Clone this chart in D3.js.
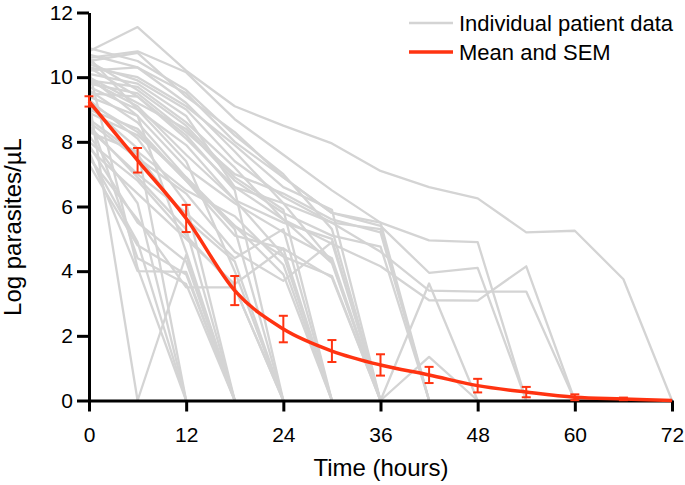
<!DOCTYPE html>
<html>
<head>
<meta charset="utf-8">
<script src="https://cdn.jsdelivr.net/npm/d3@7"></script>
<style>
  html, body { margin: 0; padding: 0; background: #fff; }
  svg { display: block; font-family: "Liberation Sans", Arial, Helvetica, sans-serif; }
</style>
</head>
<body>
<svg id="chart" width="685" height="485"></svg>
<script>
// ---- data ----
const times = [0, 6, 12, 18, 24, 30, 36, 42, 48, 54, 60, 66, 72];
const xTicks = [0, 12, 24, 36, 48, 60, 72];
const yTicks = [0, 2, 4, 6, 8, 10, 12];

const meanValues = [9.25, 7.43, 5.63, 3.40, 2.21, 1.53, 1.10, 0.79, 0.46, 0.26, 0.10, 0.05, 0];
const semValues  = [0.16, 0.38, 0.42, 0.45, 0.41, 0.34, 0.33, 0.25, 0.21, 0.16, 0.09, 0.04, 0];

// individual patients: values at times 0,6,12,...; series end when parasites cleared
const patient01 = [10.8, 11.55, 10.2, 9.1, 8.5, 7.95, 7.1, 6.6, 6.25, 5.2, 5.25, 3.75, 0];
const patient02 = [10.6, 10.8, 10.15, 8.7, 7.6, 6.5, 5.5, 4.95, 4.9, 0];
const patient03 = [10.5, 10.75, 9.4, 8.3, 6.9, 5.8, 5.4, 3.95, 4.1, 0];
const patient04 = [10.2, 10.3, 9.2, 7.7, 6.1, 5.5, 4.6, 3.4, 3.37, 3.37, 0];
const patient05 = [9.9, 9.7, 8.6, 7.2, 5.6, 4.85, 4.15, 3.1, 3.09, 4.15, 0];
const patient06 = [9.5, 9.4, 8.1, 6.6, 5.6, 4.25, 0, 3.62, 0];
const patient07 = [8.9, 8.2, 6.9, 5.4, 4.45, 3.85, 0, 1.35, 0];
const patient08 = [10.7, 10.3, 9.5, 8.0, 6.9, 5.8, 5.5, 0];
const patient09 = [10.4, 9.9, 9.0, 7.4, 6.3, 5.5, 5.3, 0];
const patient10 = [10.0, 9.2, 8.4, 6.8, 5.8, 5.1, 4.76, 0];
const patient11 = [10.9, 10.5, 9.6, 8.2, 7.0, 5.3, 0];
const patient12 = [10.1, 9.8, 8.8, 6.6, 6.1, 4.3, 0];
const patient13 = [9.7, 9.0, 7.9, 6.2, 5.5, 5.0, 0];
const patient14 = [9.2, 8.3, 6.8, 5.1, 4.7, 3.8, 0];
const patient15 = [8.6, 7.5, 6.4, 4.6, 3.7, 4.9, 0];
const patient16 = [10.5, 9.6, 8.5, 6.9, 5.9, 0];
const patient17 = [9.9, 9.1, 7.6, 6.2, 4.5, 0];
const patient18 = [9.0, 8.4, 6.8, 5.4, 3.9, 0];
const patient19 = [8.4, 7.0, 5.8, 4.4, 5.3, 0];
const patient20 = [7.8, 6.4, 5.0, 3.6, 4.7, 0];
const patient21 = [10.3, 9.4, 8.2, 6.5, 0];
const patient22 = [9.6, 8.6, 6.9, 5.3, 0];
const patient23 = [8.7, 7.6, 5.6, 4.3, 0];
const patient24 = [8.0, 6.8, 5.1, 3.5, 0];
const patient25 = [7.5, 5.6, 3.5, 3.5, 0];
const patient26 = [10.6, 9.0, 7.4, 4.0, 0];
const patient27 = [9.3, 8.1, 6.1, 0];
const patient28 = [8.5, 6.9, 5.3, 0];
const patient29 = [7.9, 5.5, 4.3, 0];
const patient30 = [7.3, 4.8, 3.9, 0];
const patient31 = [10.0, 8.8, 4.6, 0];
const patient32 = [9.1, 7.8, 0];
const patient33 = [8.2, 6.1, 0];
const patient34 = [7.6, 4.9, 0];
const patient35 = [10.2, 4.1, 0];
const patient36 = [9.3, 0, 4.5, 0];
const patient37 = [7.7, 4.0, 3.98, 0];
const patient38 = [8.8, 4.4, 3.6, 0];
const patient39 = [10.3, 10.0, 9.1, 7.9, 6.6, 5.9, 0];
const patient40 = [9.8, 9.5, 8.3, 7.0, 6.4, 5.6, 5.2, 0];
const patient41 = [9.4, 8.8, 7.2, 6.1, 5.2, 4.4, 0];
const patient42 = [8.3, 7.7, 6.5, 5.7, 4.2, 0];

const patients = [patient01, patient02, patient03, patient04, patient05, patient06, patient07,
  patient08, patient09, patient10, patient11, patient12, patient13, patient14, patient15,
  patient16, patient17, patient18, patient19, patient20, patient21, patient22, patient23,
  patient24, patient25, patient26, patient27, patient28, patient29, patient30, patient31,
  patient32, patient33, patient34, patient35, patient36, patient37, patient38, patient39,
  patient40, patient41, patient42];

const legendLabels = ["Individual patient data", "Mean and SEM"];

// ---- drawing ----
const svg = d3.select("#chart");
const gray = "#d4d4d4";
const red = "#ff3311";

const x = d3.scaleLinear().domain([0, 72]).range([89, 672]);
const y = d3.scaleLinear().domain([0, 12]).range([400.5, 12.5]);

// individual lines
const line = d3.line().x(d => x(d[0])).y(d => y(d[1]));
svg.append("g").selectAll("path")
  .data(patients.map(p => p.map((v, i) => [times[i], v])))
  .join("path")
  .attr("d", line)
  .attr("fill", "none")
  .attr("stroke", gray)
  .attr("stroke-width", 2.3)
  .attr("stroke-linejoin", "round");

// axes
const xAxis = svg.append("g").attr("transform", `translate(0,${y(0)})`)
  .call(d3.axisBottom(x).tickValues(xTicks).tickSize(11).tickSizeOuter(0).tickPadding(16));
const yAxis = svg.append("g").attr("transform", `translate(${x(0)},0)`)
  .call(d3.axisLeft(y).tickValues(yTicks).tickSize(12).tickSizeOuter(0).tickPadding(4));
[xAxis, yAxis].forEach(g => {
  g.select(".domain").attr("stroke", "#000").attr("stroke-width", 3);
  g.selectAll(".tick line").attr("stroke", "#000").attr("stroke-width", 3);
  g.selectAll(".tick text").attr("fill", "#000").style("font-size", "21px")
    .style("font-family", "'Liberation Sans', Arial, sans-serif");
});

// mean line
const meanData = meanValues.map((v, i) => ({ t: times[i], m: v, s: semValues[i] }));
svg.append("path")
  .datum(meanData)
  .attr("d", d3.line().x(d => x(d.t)).y(d => y(d.m)).curve(d3.curveMonotoneX))
  .attr("fill", "none")
  .attr("stroke", red)
  .attr("stroke-width", 3.5);

// error bars
const eb = svg.append("g").attr("stroke", red).attr("stroke-width", 2);
const capW = 4.5;
meanData.filter(d => d.s > 0).forEach(d => {
  const lo = Math.max(0, d.m - d.s), hi = d.m + d.s;
  eb.append("line").attr("x1", x(d.t)).attr("x2", x(d.t)).attr("y1", y(lo)).attr("y2", y(hi));
  eb.append("line").attr("x1", x(d.t) - capW).attr("x2", x(d.t) + capW).attr("y1", y(hi)).attr("y2", y(hi));
  eb.append("line").attr("x1", x(d.t) - capW).attr("x2", x(d.t) + capW).attr("y1", y(lo)).attr("y2", y(lo));
});

// legend
const legend = svg.append("g");
const legendColors = [gray, red];
const legendWidths = [2.5, 3.5];
legendLabels.forEach((lab, i) => {
  const yy = 23 + i * 29;
  legend.append("line").attr("x1", 409).attr("x2", 453).attr("y1", yy).attr("y2", yy)
    .attr("stroke", legendColors[i]).attr("stroke-width", legendWidths[i]);
  legend.append("text").attr("x", 459).attr("y", yy + 7.5).text(lab)
    .style("font-size", "22px").attr("fill", "#000");
});

// axis titles
svg.append("text").attr("x", 381).attr("y", 476).attr("text-anchor", "middle")
  .style("font-size", "24px").attr("fill", "#000").text("Time (hours)");
svg.append("text").attr("transform", "translate(21,227) rotate(-90)").attr("text-anchor", "middle")
  .style("font-size", "24px").attr("fill", "#000").text("Log parasites/µL");
</script>
</body>
</html>
